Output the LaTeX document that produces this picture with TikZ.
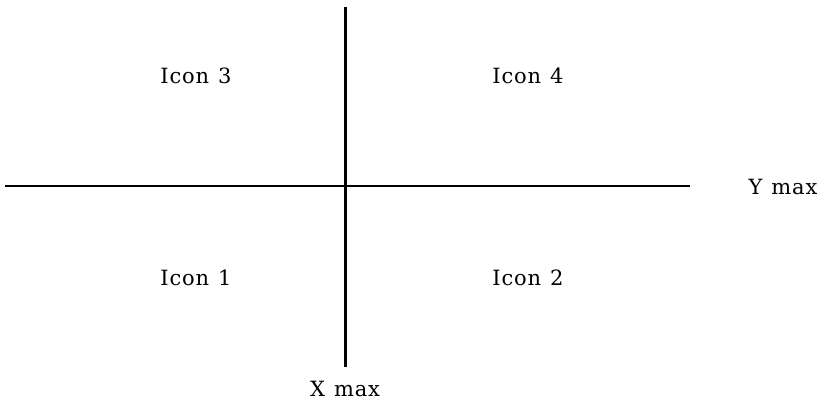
\documentclass[tikz,border=0pt]{standalone}
\usepackage{fontspec}
\setmainfont{DejaVu Serif}[LetterSpace=4,WordSpace=1.2]
\begin{document}
\begin{tikzpicture}[x=1pt,y=-1pt,
  axis/.style={line width=2.8pt},
  lbl/.style={font=\fontsize{21}{25}\selectfont, inner sep=0pt}]
\useasboundingbox (0,0) rectangle (832,406);
\coordinate (vt) at (345.5,7);
\coordinate (vb) at (345.5,367);
\coordinate (hl) at (5,186);
\coordinate (hr) at (690,186);
\draw[axis] (vt) -- (vb);
\draw[axis] (hl) -- (hr);
\node[lbl] (i3) at (196,76) {Icon 3};
\node[lbl] (i4) at (528,76) {Icon 4};
\node[lbl] (i1) at (196,278) {Icon 1};
\node[lbl] (i2) at (528,278) {Icon 2};
\node[lbl] (ym) at (783,187) {Y max};
\node[lbl] (xm) at (345,389) {X max};
\end{tikzpicture}
\end{document}
